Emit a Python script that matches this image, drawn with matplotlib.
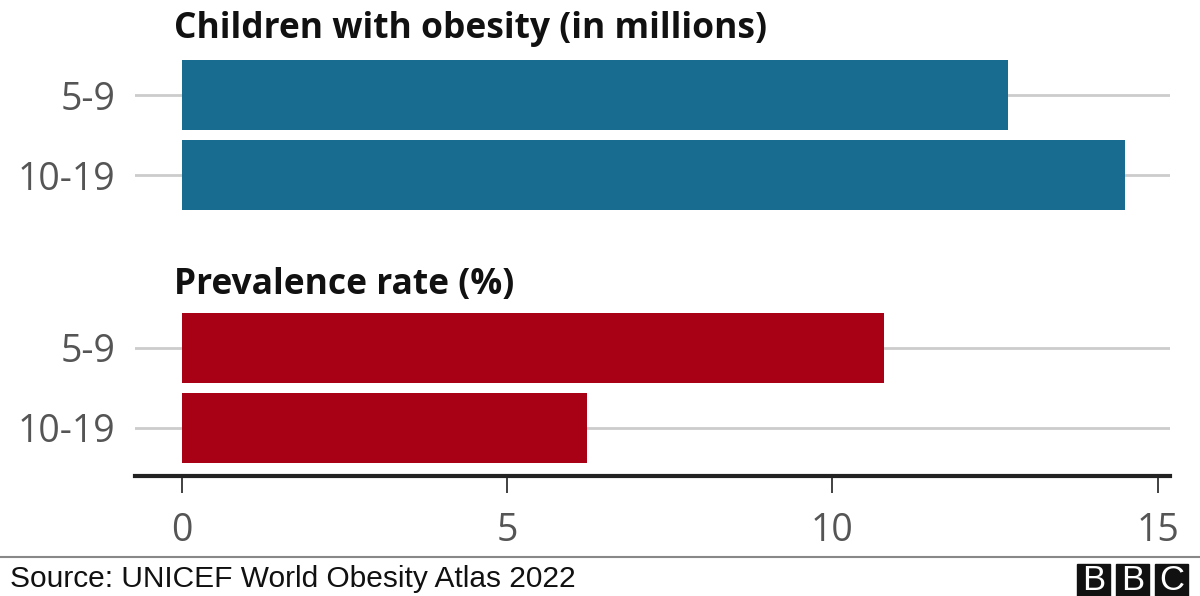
import matplotlib.pyplot as plt
from matplotlib.patches import Rectangle

# data
age_groups = ["5-9", "10-19"]
obesity_millions = [12.7, 14.5]
prevalence_pct = [10.8, 6.23]
x_ticks = [0, 5, 10, 15]

title_top = "Children with obesity (in millions)"
title_bottom = "Prevalence rate (%)"
source = "Source: UNICEF World Obesity Atlas 2022"

blue = "#176c8f"
red = "#a80014"

W, H = 1200, 596
fig = plt.figure(figsize=(W / 100, H / 100), dpi=100)

# axes placed in pixel terms
left, right, top, bottom = 135, 1170, 0, 476
ax = fig.add_axes([left / W, 1 - bottom / H, (right - left) / W, (bottom - top) / H])

# y layout: two groups of two bars
group_gap = 2.1625
pos_top = [0, 1]
pos_bot = [p + group_gap + 1 for p in pos_top]
bar_h = 0.875

ax.barh(pos_top, obesity_millions, height=bar_h, color=blue, zorder=3)
ax.barh(pos_bot, prevalence_pct, height=bar_h, color=red, zorder=3)

all_pos = pos_top + pos_bot
for y in all_pos:
    ax.axhline(y, color="#cccccc", lw=2, zorder=1)

ax.set_yticks(all_pos)
ax.set_yticklabels(age_groups * 2)
ax.set_ylim(4.7625, -1.1875)
ax.set_xlim(-0.72, 15.19)
ax.set_xticks(x_ticks)

ax.tick_params(axis="y", length=0, pad=14, labelsize=27, labelcolor="#555555")
ax.tick_params(axis="x", length=12, width=1.3, color="#333333", pad=14,
               labelsize=27, labelcolor="#555555")
for lab in ax.get_xticklabels() + ax.get_yticklabels():
    lab.set_fontfamily("Open Sans")

for s in ["top", "right", "left"]:
    ax.spines[s].set_visible(False)
ax.spines["bottom"].set_color("#222222")
ax.spines["bottom"].set_linewidth(3)

ax.text(-0.12, -0.82, title_top, fontsize=25.5, fontweight="bold", family="Open Sans",
        va="center", ha="left", color="#111111")
ax.text(-0.12, 2.37, title_bottom, fontsize=25.5, fontweight="bold", family="Open Sans",
        va="center", ha="left", color="#111111")

# footer
fig.add_artist(plt.Line2D([0, 1], [1 - 557 / H, 1 - 557 / H], color="#888888", lw=1.5))
fig.text(10 / W, 1 - 579 / H, source, fontsize=21.5, family="Liberation Sans",
         va="center", ha="left", color="#111111")

for i, letter in enumerate("BBC"):
    x0 = 1077 + i * 39
    fig.add_artist(Rectangle((x0 / W, 1 - 598 / H), 33 / W, 34 / H,
                             transform=fig.transFigure, color="#111111"))
    fig.text((x0 + 16.5) / W, 1 - 581 / H, letter, fontsize=25,
             family="Liberation Sans", color="white", ha="center", va="center")

fig.savefig("out.png", dpi=100)
